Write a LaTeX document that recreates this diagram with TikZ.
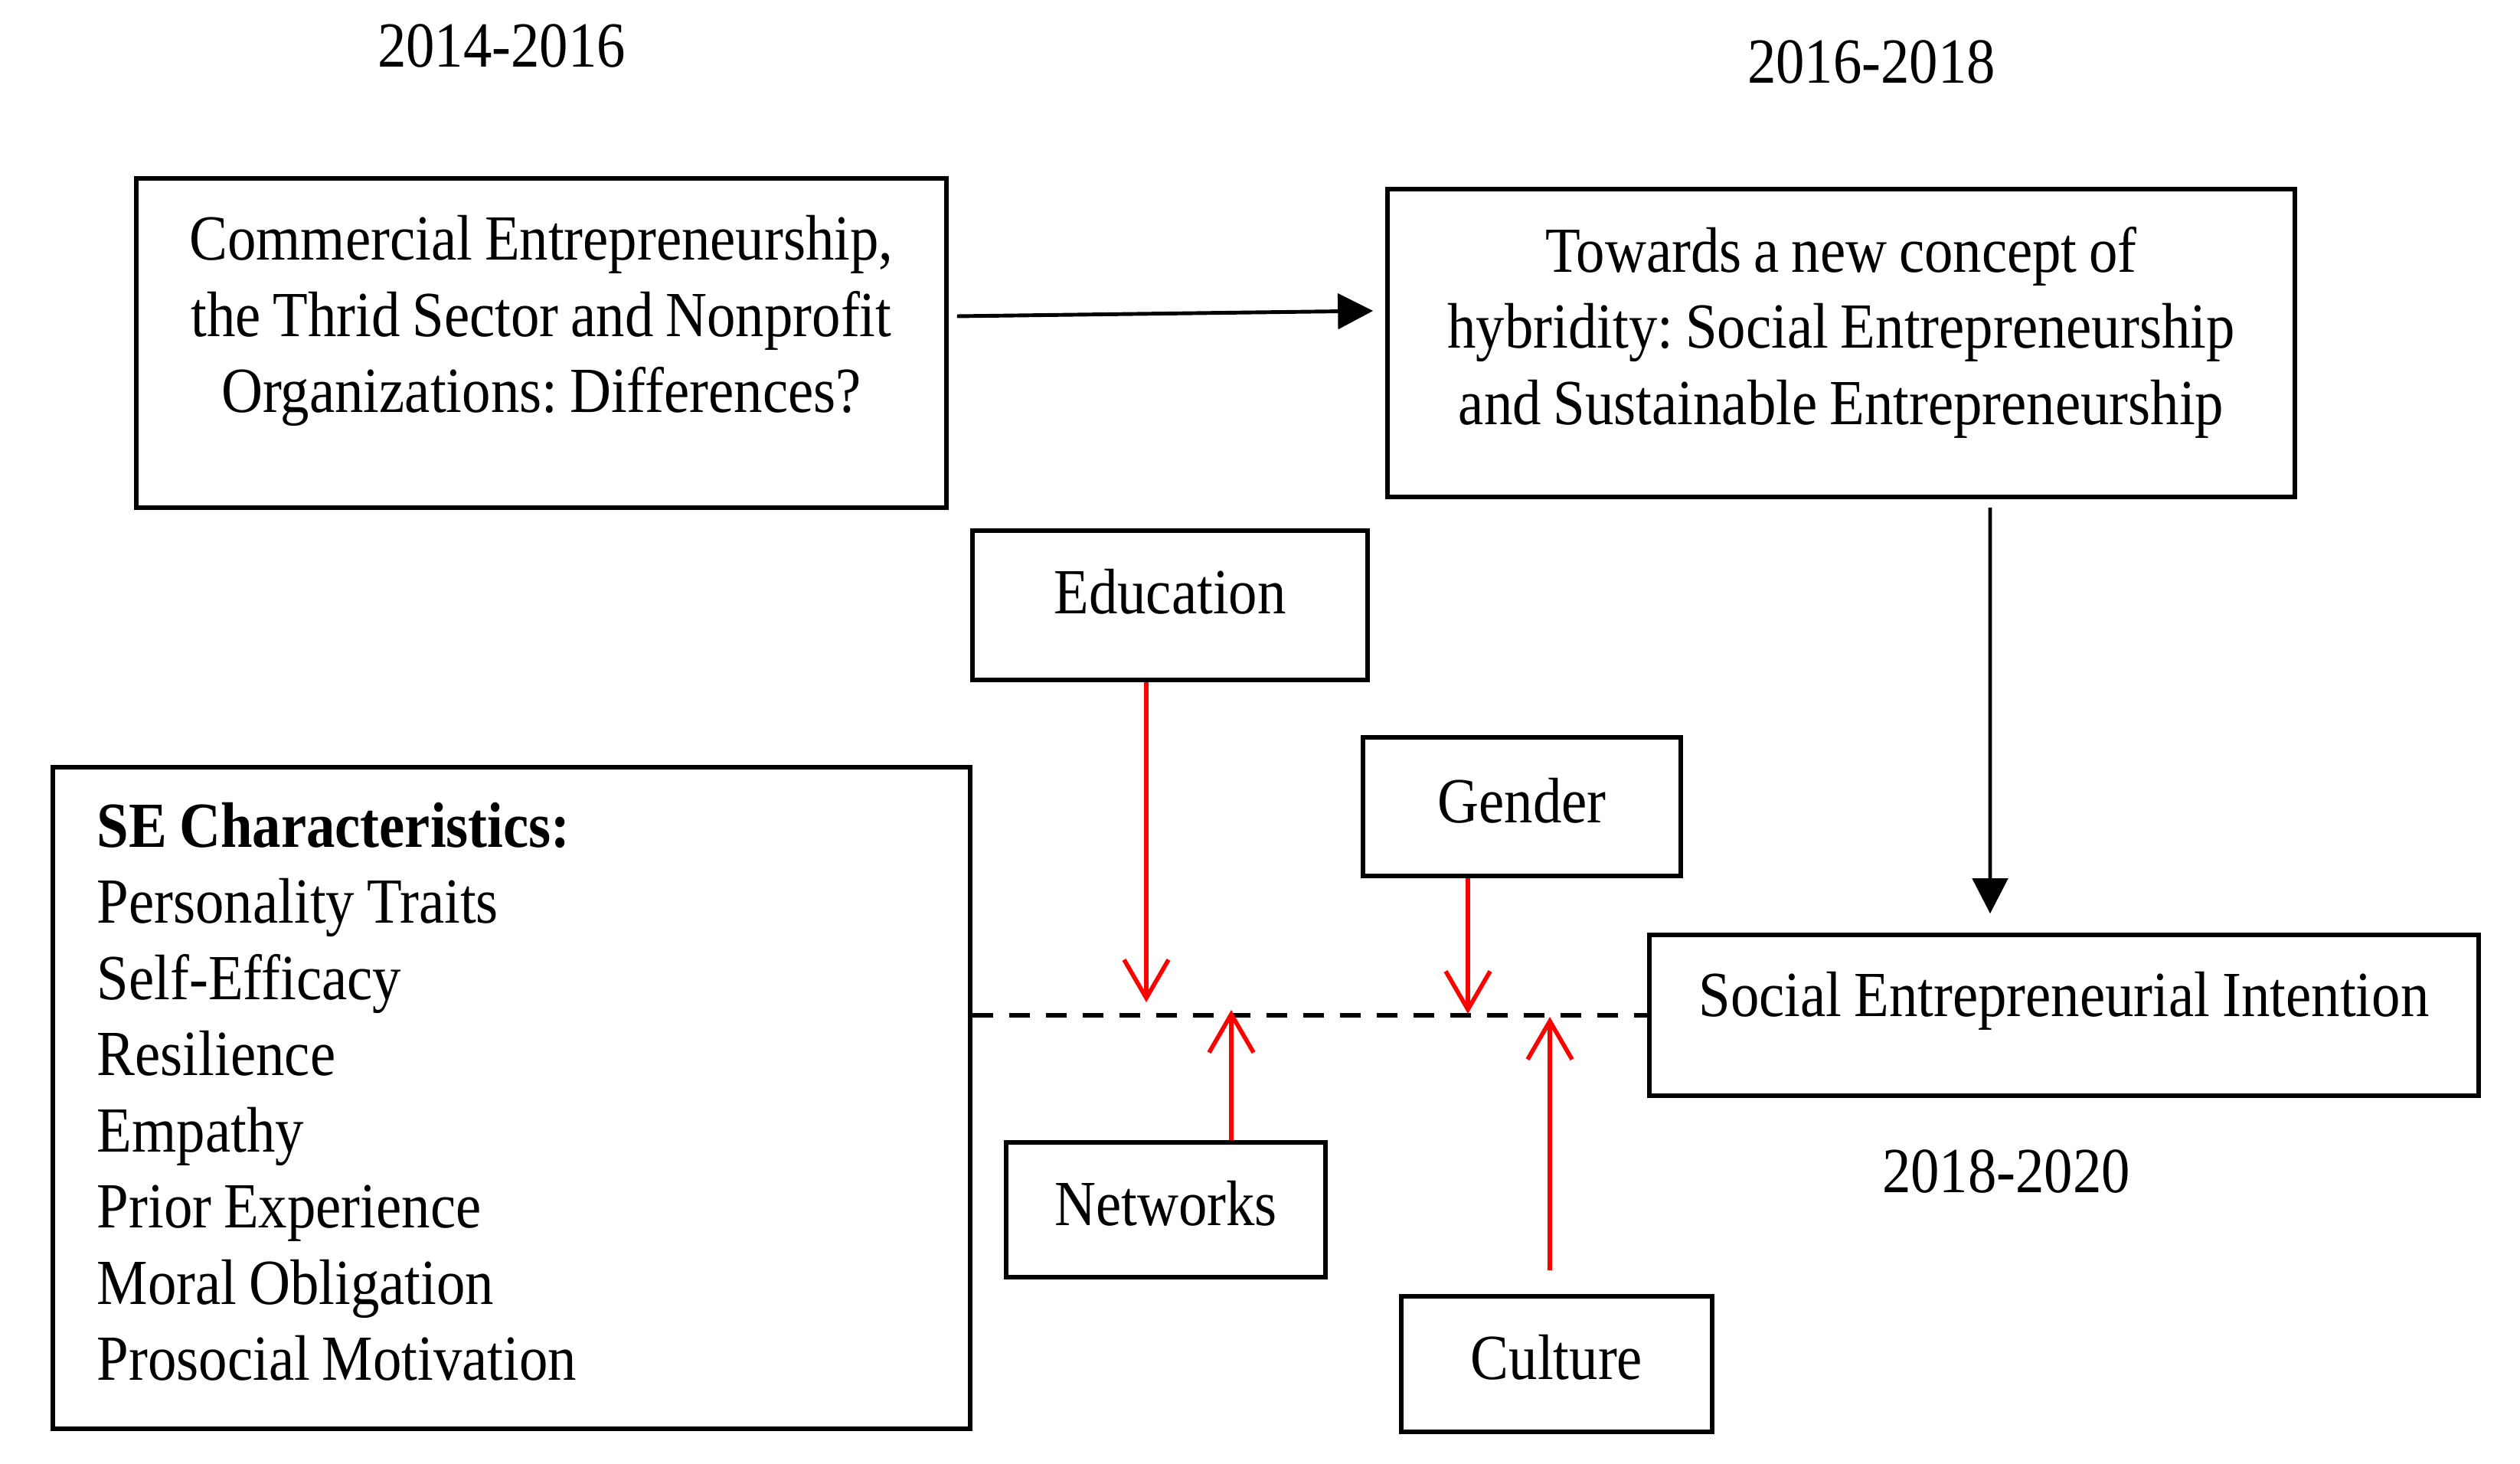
\documentclass[tikz,border=0pt]{standalone}
\usepackage{fontspec}
\setmainfont{Liberation Serif}[FakeStretch=0.89,WordSpace=0.85]
\usetikzlibrary{arrows.meta}
\definecolor{linkred}{rgb}{1.0, 0.0, 0.0}

\begin{document}
\begin{tikzpicture}[every node/.style={inner sep=0.15cm,font=\fontsize{23.9pt}{28.3pt}\selectfont\frenchspacing},
    box/.style={draw,line width=1.6pt,align=center},
    flow/.style={line width=1.4pt,-{Triangle[length=0.46cm,width=0.46cm]}},
    moderator/.style={linkred,line width=1.6pt,-{Straight Barb[length=0.5cm,width=0.58cm]}},
    dashline/.style={line width=1.9pt,dash pattern=on 0.27cm off 0.21cm}]
    \useasboundingbox (0,0) rectangle (32.91,-19.12);

    % periods
    \node (p1) at (6.55,-0.60) {2014-2016};
    \node (p2) at (24.44,-0.81) {2016-2018};
    \node (p3) at (26.20,-15.30) {2018-2020};

    % boxes
    \node[box,minimum width=10.58cm,minimum height=4.30cm,text depth=0.76cm] (comm) at (7.07,-4.48)
        {Commercial Entrepreneurship,\\the Thrid Sector and Nonprofit\\Organizations: Differences?};
    \node[box,minimum width=11.85cm,minimum height=4.02cm,text depth=0.46cm] (tow) at (24.045,-4.48)
        {Towards a new concept of\\hybridity: Social Entrepreneurship\\and Sustainable Entrepreneurship};
    \node[box,minimum width=5.16cm,minimum height=1.95cm,text depth=0.36cm] (edu) at (15.28,-7.905) {Education};
    \node[box,minimum width=4.15cm,minimum height=1.81cm,text depth=0.16cm] (gen) at (19.875,-10.535) {Gender};
    \node[box,minimum width=10.83cm,minimum height=2.10cm,text depth=0.56cm] (sei) at (26.955,-13.26) {Social Entrepreneurial Intention};
    \node[box,minimum width=4.17cm,minimum height=1.76cm,text depth=0.18cm] (net) at (15.225,-15.80) {Networks};
    \node[box,minimum width=4.06cm,minimum height=1.77cm,text depth=0.18cm] (cul) at (20.33,-17.815) {Culture};
    \node[box,anchor=north west,align=flush left,text width=10.82cm,inner xsep=0.58cm,inner ysep=0.4cm,minimum height=8.64cm,text height=0.42cm] (se) at (0.66,-9.99)
        {\textbf{SE Characteristics:}\\Personality Traits\\Self-Efficacy\\Resilience\\Empathy\\Prior Experience\\Moral Obligation\\Prosocial Motivation};

    % main flow
    \draw[flow] ([shift={(0.11cm,0.35cm)}]comm.east) -- ([shift={(-0.16cm,0.42cm)}]tow.west);
    \draw[flow] ([shift={(1.945cm,-0.11cm)}]tow.south) -- ([shift={(-0.965cm,0.25cm)}]sei.north);
    \draw[dashline] (se.east |- sei.west) -- (sei.west);

    % moderators
    \coordinate (eduend) at (14.97,-13.09);
    \coordinate (netend) at (16.08,-13.19);
    \coordinate (genend) at (19.17,-13.24);
    \coordinate (culend) at (20.24,-13.28);
    \coordinate (culstart) at (20.24,-16.59);
    \draw[moderator] (edu.south -| eduend) -- (eduend);
    \draw[moderator] (net.north -| netend) -- (netend);
    \draw[moderator] (gen.south -| genend) -- (genend);
    \draw[moderator] (culstart) -- (culend);
\end{tikzpicture}
\end{document}
